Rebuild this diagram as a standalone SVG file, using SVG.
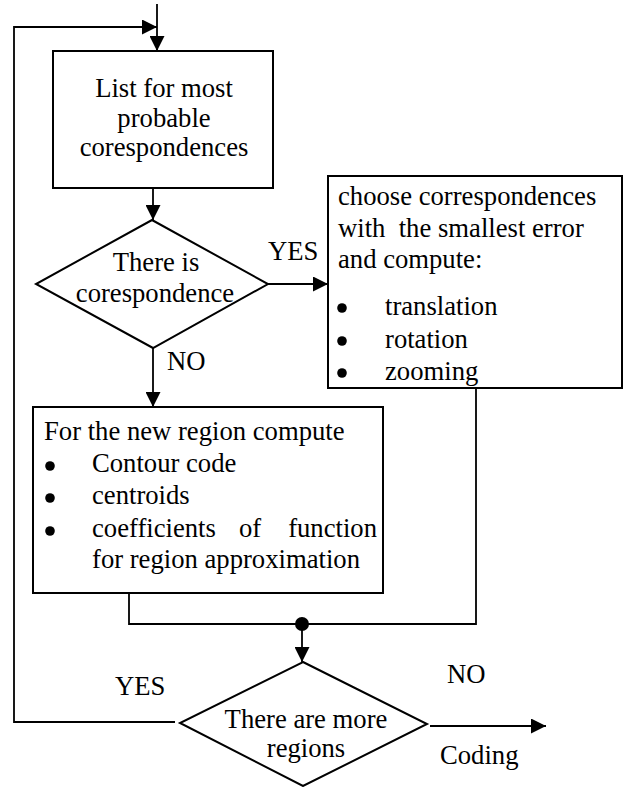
<svg xmlns="http://www.w3.org/2000/svg" width="625" height="787" viewBox="0 0 625 787">
<style>
  text { font-family: "Liberation Serif", "Times New Roman", serif; font-size: 26.67px; fill: #000; }
  .c { text-anchor: middle; }
  .bullet { fill: #000; }
  .shape { fill: #fff; stroke: #000; stroke-width: 2; }
  .line { fill: none; stroke: #000; stroke-width: 1.8; }
</style>
<defs>
  <marker id="arr" viewBox="0 0 15 15" refX="15" refY="7.5" markerWidth="15" markerHeight="15" markerUnits="userSpaceOnUse" orient="auto">
    <path d="M0,0 L15,7.5 L0,15 z" fill="#000"/>
  </marker>
</defs>
<rect width="625" height="787" fill="#fff"/>

<g id="connectors">
  <path class="line" d="M157,4 V51" marker-end="url(#arr)"/>
  <path class="line" d="M175,722 H14 V27 H157" marker-end="url(#arr)"/>
  <path class="line" d="M153,188 V220" marker-end="url(#arr)"/>
  <path class="line" d="M268,284 H328" marker-end="url(#arr)"/>
  <path class="line" d="M153,348 V407" marker-end="url(#arr)"/>
  <path class="line" d="M129,593 V624 H476 V388"/>
  <circle cx="302" cy="624" r="7" fill="#000"/>
  <path class="line" d="M302,624 V662" marker-end="url(#arr)"/>
  <path class="line" d="M430,726 H546" marker-end="url(#arr)"/>
  <text x="268" y="260">YES</text>
  <text x="167" y="370">NO</text>
  <text x="115" y="695">YES</text>
  <text x="447" y="683">NO</text>
  <text x="440" y="764">Coding</text>
</g>

<g id="list">
  <rect class="shape" x="53" y="51" width="220" height="137"/>
  <text class="c" x="164" y="97">List for most</text>
  <text class="c" x="164" y="127">probable</text>
  <text class="c" x="164" y="156">corespondences</text>
</g>

<g id="decision1">
  <polygon class="shape" stroke-width="1.8" points="152,220 268,284 153,348 36,284"/>
  <text class="c" x="156" y="271">There is</text>
  <text class="c" x="155" y="302">corespondence</text>
</g>

<g id="choose">
  <rect class="shape" x="328" y="176" width="294" height="212"/>
  <text x="338" y="205">choose correspondences</text>
  <text x="338" y="237" xml:space="preserve">with  the smallest error</text>
  <text x="338" y="268">and compute:</text>
  <circle class="bullet" cx="342" cy="308" r="4.8"/><text x="385" y="315">translation</text>
  <circle class="bullet" cx="342" cy="341" r="4.8"/><text x="385" y="348">rotation</text>
  <circle class="bullet" cx="342" cy="373" r="4.8"/><text x="385" y="380">zooming</text>
</g>

<g id="compute">
  <rect class="shape" x="33" y="407" width="350" height="186"/>
  <text x="44" y="440">For the new region compute</text>
  <circle class="bullet" cx="50" cy="466" r="4.8"/><text x="92" y="472">Contour code</text>
  <circle class="bullet" cx="50" cy="498" r="4.8"/><text x="92" y="504">centroids</text>
  <circle class="bullet" cx="50" cy="531" r="4.8"/><text x="92" y="537">coefficients<tspan x="239">of</tspan><tspan x="377" text-anchor="end">function</tspan></text>
  <text x="92" y="568">for region approximation</text>
</g>

<g id="decision2">
  <polygon class="shape" stroke-width="1.8" points="303,662 427,724 303,786 180,723"/>
  <text class="c" x="306" y="728">There are more</text>
  <text class="c" x="306" y="757">regions</text>
</g>
</svg>
